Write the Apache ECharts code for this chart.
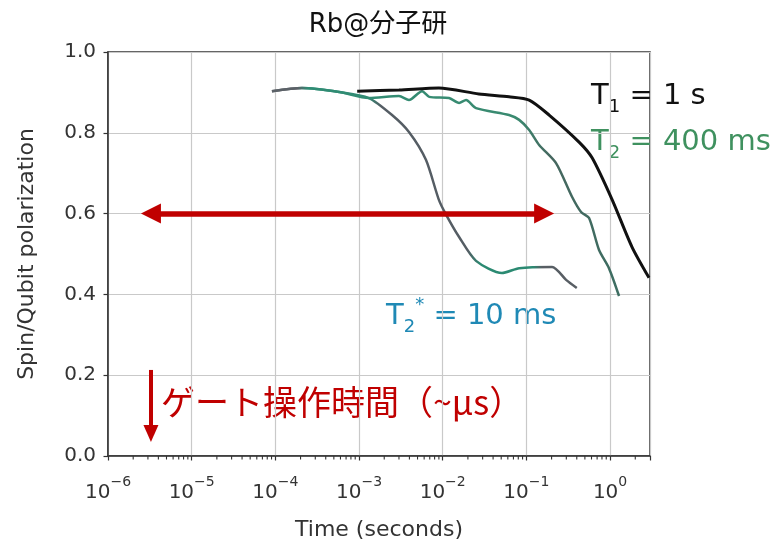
<!DOCTYPE html>
<html>
<head>
<meta charset="utf-8">
<script src="https://cdn.jsdelivr.net/npm/echarts@6/dist/echarts.min.js"></script>
<style>html,body{margin:0;padding:0;background:#fff;}#c{width:775px;height:541px;}</style>
</head>
<body>
<div id="c"></div>
<script>
// ---- data ----
const t1Time = [9.5e-4, 3.0e-3, 9.0e-3, 0.027, 0.062, 0.108, 0.187, 0.426, 0.61, 1.06, 1.83, 2.92];
const t1Pol  = [0.903, 0.906, 0.911, 0.896, 0.889, 0.881, 0.844, 0.777, 0.738, 0.634, 0.517, 0.441];

const t2sTime = [9.1e-5, 2.08e-4, 5.8e-4, 1.31e-3, 2.48e-3, 3.95e-3, 6.3e-3, 9.0e-3, 0.011, 0.0157, 0.025, 0.051, 0.082, 0.203, 0.298, 0.40];
const t2sPol  = [0.903, 0.911, 0.901, 0.886, 0.844, 0.802, 0.733, 0.634, 0.597, 0.542, 0.483, 0.453, 0.465, 0.468, 0.436, 0.416];

const t2Time = [9.1e-5, 2.08e-4, 5.8e-4, 1.31e-3, 3.0e-3, 3.95e-3, 5.66e-3, 6.9e-3, 0.0119, 0.0157, 0.019, 0.025, 0.062, 0.082, 0.108, 0.142, 0.226, 0.352, 0.45, 0.561, 0.738, 0.97, 1.28];
const t2Pol  = [0.903, 0.911, 0.901, 0.886, 0.891, 0.881, 0.903, 0.889, 0.886, 0.874, 0.881, 0.861, 0.844, 0.832, 0.807, 0.770, 0.725, 0.641, 0.604, 0.589, 0.510, 0.465, 0.396];

const yTicks = [0, 0.2, 0.4, 0.6, 0.8, 1.0];
const xDecades = [-6, -5, -4, -3, -2, -1, 0];
const minorMultipliers = [2, 3, 4, 5, 6, 7, 8, 9];

// annotation arrows (data coordinates)
const rangeArrow = [[3.26e-6, 0.6], [0.163, 0.6]];
const gateArrow = [[3.26e-6, 0.213], [3.26e-6, 0.0557]];

const xMin = 1e-6, xMax = 3;

const zip = (a, b) => a.map((v, i) => [v, b[i]]);
const minorTicks = [];
xDecades.forEach(d => minorMultipliers.forEach(m => {
  const v = m * Math.pow(10, d);
  if (v < xMax) minorTicks.push([v, 0]);
}));

const tickFont = 'DejaVu Sans';
const axisColor = '#333';
const red = '#c00000';

const chart = echarts.init(document.getElementById('c'));
chart.setOption({
  animation: false,
  backgroundColor: '#fff',
  grid: { left: 108, right: 125, top: 52, bottom: 85, containLabel: false, outerBoundsMode: 'none',
          show: true, borderColor: axisColor, borderWidth: 1.5, backgroundColor: 'transparent' },
  xAxis: {
    type: 'log', logBase: 10, min: xMin, max: xMax,
    name: 'Time (seconds)', nameLocation: 'middle', nameGap: 63,
    nameTextStyle: { fontSize: 22, color: axisColor, fontFamily: tickFont },
    axisLine: { show: true, lineStyle: { color: axisColor, width: 1.5 } },
    axisTick: { show: true, length: 4.5, lineStyle: { color: axisColor, width: 1.2 } },
    splitLine: { show: true, lineStyle: { color: '#c9c9c9', width: 1.2 } },
    axisLabel: {
      margin: 19,
      formatter: function (v) {
        const e = Math.log10(v), r = Math.round(e);
        if (Math.abs(e - r) > 1e-3 || xDecades.indexOf(r) < 0) return '';
        return '{b|10}{s|' + (r < 0 ? '\u2212' + (-r) : r) + '}';
      },
      rich: {
        b: { fontSize: 20, fontFamily: tickFont, color: axisColor, lineHeight: 28, verticalAlign: 'bottom' },
        s: { fontSize: 14, fontFamily: tickFont, color: axisColor, lineHeight: 12, verticalAlign: 'top' }
      }
    }
  },
  yAxis: {
    type: 'value', min: yTicks[0], max: yTicks[yTicks.length - 1], interval: 0.2,
    name: 'Spin/Qubit polarization', nameLocation: 'middle', nameGap: 70,
    nameTextStyle: { fontSize: 22, color: axisColor, fontFamily: tickFont },
    axisLine: { show: true, lineStyle: { color: axisColor, width: 1.5 } },
    axisTick: { show: true, length: 4.5, lineStyle: { color: axisColor, width: 1.2 } },
    splitLine: { show: true, lineStyle: { color: '#c9c9c9', width: 1.2 } },
    axisLabel: { margin: 12, fontSize: 20, fontFamily: tickFont, color: axisColor, formatter: v => v.toFixed(1) }
  },
  series: [
    {
      type: 'custom', silent: true, clip: false, z: 20,
      data: minorTicks,
      encode: { x: 0, y: 1 },
      renderItem: function (params, api) {
        const p = api.coord([api.value(0), api.value(1)]);
        return { type: 'line', shape: { x1: p[0], y1: p[1], x2: p[0], y2: p[1] + 3.5 }, style: { stroke: axisColor, lineWidth: 1.1 } };
      }
    },
    {
      name: 'T2*', type: 'line', data: zip(t2sTime, t2sPol), showSymbol: false, smooth: 0.25, z: 3,
      lineStyle: {
        width: 2.5,
        color: new echarts.graphic.LinearGradient(0, 0, 1, 0, [
          { offset: 0, color: '#5b6167' }, { offset: 0.09, color: '#5b6167' },
          { offset: 0.12, color: '#2f8a74' }, { offset: 0.32, color: '#2f8a74' },
          { offset: 0.36, color: '#555d64' }, { offset: 0.64, color: '#555d64' },
          { offset: 0.68, color: '#2b8a72' }, { offset: 0.85, color: '#2b8a72' },
          { offset: 0.88, color: '#585e64' }, { offset: 1, color: '#585e64' }
        ])
      }
    },
    {
      name: 'T2', type: 'line', data: zip(t2Time, t2Pol), showSymbol: false, smooth: 0.25, z: 4,
      lineStyle: {
        width: 2.5,
        color: new echarts.graphic.LinearGradient(0, 0, 1, 0, [
          { offset: 0, color: '#5b6167' }, { offset: 0.08, color: '#5b6167' },
          { offset: 0.11, color: '#2f8c74' }, { offset: 0.7, color: '#3a8a70' },
          { offset: 0.8, color: '#46675f' }, { offset: 1, color: '#3d6e62' }
        ])
      }
    },
    {
      name: 'T1', type: 'line', data: zip(t1Time, t1Pol), showSymbol: false, smooth: 0.25, z: 6,
      lineStyle: { width: 3, color: '#111' },
      markLine: {
        silent: true, animation: false, z: 10,
        label: { show: false },
        lineStyle: { color: red, width: 5.5, type: 'solid', opacity: 1 },
        data: [
          [
            { coord: rangeArrow[0], symbol: 'triangle', symbolSize: [20, 20] },
            { coord: rangeArrow[1], symbol: 'triangle', symbolSize: [20, 20] }
          ],
          [
            { coord: gateArrow[0], symbol: 'none', lineStyle: { width: 4 } },
            { coord: gateArrow[1], symbol: 'triangle', symbolSize: [15, 17], lineStyle: { width: 4 } }
          ]
        ]
      }
    }
  ],
  graphic: [
    { type: 'text', x: 378, y: 25, style: { text: 'Rb@分子研', fontSize: 26, fontFamily: 'DejaVu Sans, "Noto Sans CJK JP"', fill: '#111', align: 'center', verticalAlign: 'middle' } },
    { type: 'text', left: 591, top: 82, style: {
      text: '{m|T}{sub|1}{m| = 1 s}',
      rich: {
        m: { fontSize: 29, fontFamily: 'DejaVu Sans', fill: '#111', lineHeight: 40, verticalAlign: 'middle' },
        sub: { fontSize: 18, fontFamily: 'DejaVu Sans', fill: '#111', lineHeight: 18, verticalAlign: 'bottom' }
      } } },
    { type: 'text', left: 591, top: 128, style: {
      text: '{m|T}{sub|2}{m| = 400 ms}',
      rich: {
        m: { fontSize: 29, fontFamily: 'DejaVu Sans', fill: '#3f915f', lineHeight: 40, verticalAlign: 'middle' },
        sub: { fontSize: 18, fontFamily: 'DejaVu Sans', fill: '#3f915f', lineHeight: 18, verticalAlign: 'bottom' }
      } } },
    { type: 'text', left: 386, top: 296, style: {
      text: '{m|T}{sub|2}{sup|*}{m| = 10 ms}',
      rich: {
        m: { fontSize: 29, fontFamily: 'DejaVu Sans', fill: '#1f89b5', lineHeight: 40, verticalAlign: 'middle' },
        sub: { fontSize: 18, fontFamily: 'DejaVu Sans', fill: '#1f89b5', lineHeight: 22, verticalAlign: 'bottom' },
        sup: { fontSize: 18, fontFamily: 'DejaVu Sans', fill: '#1f89b5', lineHeight: 20, verticalAlign: 'top' }
      } } },
    { type: 'text', left: 161, top: 382, style: { text: 'ゲート操作時間（~μs）', fontSize: 34, fontFamily: '"Noto Sans CJK JP"', fill: red, lineHeight: 40 } }
  ]
});
</script>
</body>
</html>
